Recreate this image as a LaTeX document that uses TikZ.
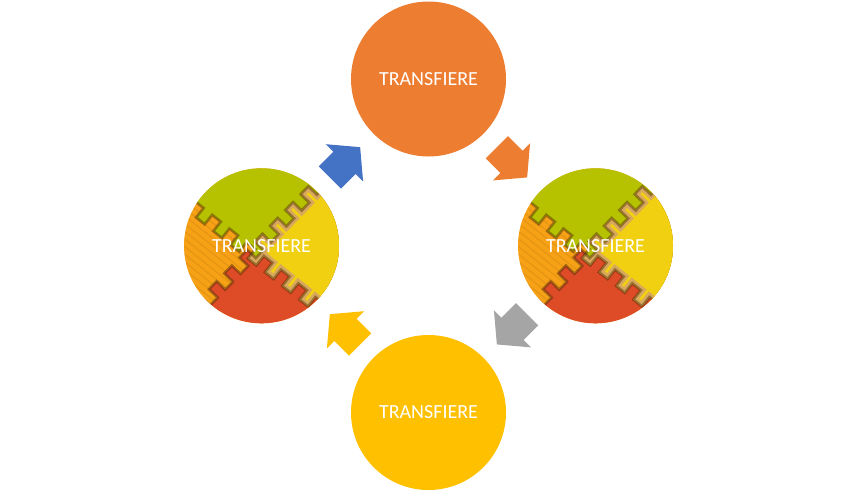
\documentclass[tikz,border=0pt]{standalone}
\usepackage{fontspec}
\setmainfont{Carlito}
\usepackage{xcolor}
\usepackage{tikz}

\definecolor{orangeone}{HTML}{ED7D31}
\definecolor{blueone}{HTML}{4472C4}
\definecolor{grayone}{HTML}{A5A5A5}
\definecolor{goldone}{HTML}{FFC000}
\definecolor{matgreen}{HTML}{B6C100}
\definecolor{matyellow}{HTML}{F1D012}
\definecolor{matred}{HTML}{DE4B27}
\definecolor{matorange}{HTML}{F7A116}
\definecolor{mattan}{HTML}{D8A95C}
\definecolor{matshadow}{HTML}{4A2A08}

% square teeth of the mat pieces
\newcommand{\matwave}{(-160,0) \foreach \s in {-154,-132,...,154} {-- (\s,-6) -- (\s,6) -- (\s+11,6) -- (\s+11,-6)} -- (170,-6)}

\tikzset{
bigcircle/.style={circle, minimum size=116.25pt, inner sep=0pt, text=white, font=\fontsize{15}{18}\selectfont},
cyclearrow/.pic={
\fill (-21.4,-15.7) -- (-0.7,-15.7) -- (-0.7,-26.3) -- (21.4,0) -- (-0.7,26.3) -- (-0.7,15.7) -- (-21.4,15.7) -- cycle;
},
puzzlemat/.pic={
\clip (0,0) circle (77.5);
\fill[matorange] (0,0) circle (80);
\foreach \k in {-90,-84,...,90}{
\draw[matorange!75!black, opacity=0.25, line width=1pt, shift={(-10,8)}, rotate=-38.5] (-100,\k) -- (100,\k);
}
\begin{scope}
\clip[shift={(-10,8)}, rotate=46] \matwave -- (170,170) -- (-160,170) -- cycle;
\fill[matred] (0,0) circle (80);
\end{scope}
\begin{scope}
\clip[shift={(-10,8)}, rotate=-38.5] \matwave -- (170,-170) -- (-160,-170) -- cycle;
\fill[matgreen] (0,0) circle (80);
\begin{scope}
\clip[shift={(-10,8)}, rotate=46] \matwave -- (170,170) -- (-160,170) -- cycle;
\fill[matyellow] (0,0) circle (80);
\draw[mattan, line width=6pt, shift={(-10,8)}, rotate=46] \matwave;
\draw[mattan, line width=6pt, shift={(-10,8)}, rotate=-38.5] \matwave;
\end{scope}
\end{scope}
\draw[matshadow, opacity=0.45, line width=2pt, shift={(-10,8)}, rotate=46] \matwave;
\draw[matshadow, opacity=0.45, line width=2pt, shift={(-10,8)}, rotate=-38.5] \matwave;
}
}

\begin{document}
\begin{tikzpicture}[x=0.75pt, y=-0.75pt]
\useasboundingbox (0,0) rectangle (857,493);

% the four stages
\node[bigcircle, fill=orangeone] (top) at (428.5,79) {TRANSFIERE};
\pic at (595.5,245.8) {puzzlemat};
\node[bigcircle] (right) at (595.5,245.8) {TRANSFIERE};
\node[bigcircle, fill=goldone] (bottom) at (428.5,412.5) {TRANSFIERE};
\pic at (261.5,245.8) {puzzlemat};
\node[bigcircle] (left) at (261.5,245.8) {TRANSFIERE};

% arrows round the cycle
\pic[blueone, rotate=45] at (345,162.3) {cyclearrow};
\pic[orangeone, rotate=-45] at (512,162.3) {cyclearrow};
\pic[grayone, rotate=-135] at (512,329.3) {cyclearrow};
\pic[goldone, rotate=135] at (345,329.3) {cyclearrow};

\end{tikzpicture}
\end{document}
